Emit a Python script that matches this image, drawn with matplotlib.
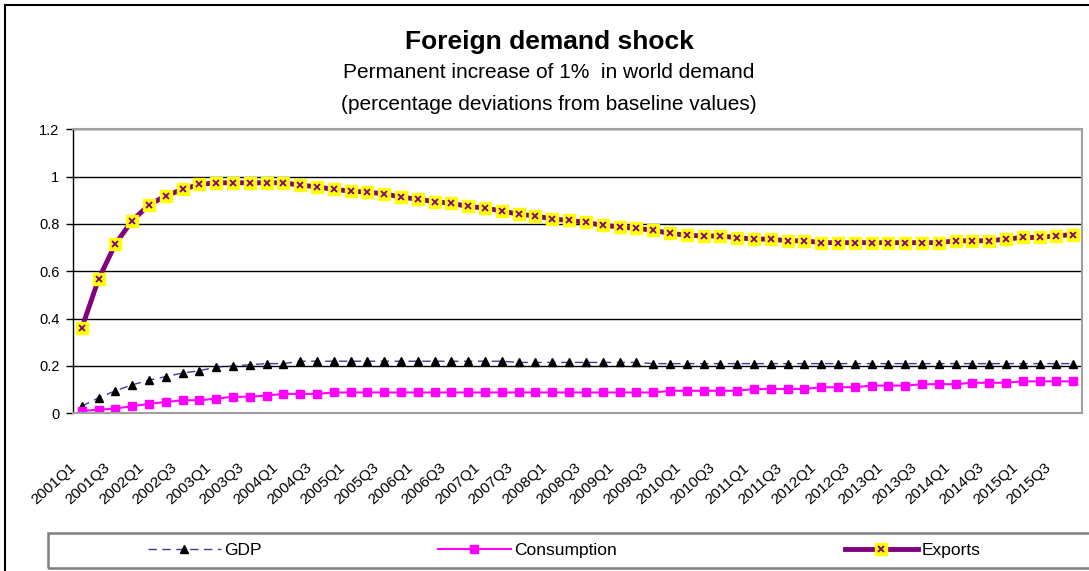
import matplotlib.pyplot as plt
from matplotlib.patches import Rectangle
from matplotlib.transforms import ScaledTranslation

plt.rcParams['font.family'] = ['Liberation Sans', 'DejaVu Sans']

# quarters 2001Q1 .. 2015Q4
quarters = [f'{y}Q{q}' for y in range(2001, 2016) for q in range(1, 5)]

gdp = [0.03, 0.065, 0.095, 0.12, 0.14, 0.155, 0.17, 0.18, 0.195, 0.20,
       0.205, 0.21, 0.21, 0.22, 0.22, 0.22, 0.22, 0.22, 0.22, 0.22,
       0.22, 0.22, 0.22, 0.22, 0.22, 0.22, 0.215, 0.215, 0.215, 0.215,
       0.215, 0.215, 0.215, 0.215, 0.21, 0.21, 0.21, 0.21, 0.21, 0.21,
       0.21, 0.21, 0.21, 0.21, 0.21, 0.21, 0.21, 0.21, 0.21, 0.21,
       0.21, 0.21, 0.21, 0.21, 0.21, 0.21, 0.21, 0.21, 0.21, 0.21]

consumption = [0.01, 0.015, 0.02, 0.03, 0.04, 0.048, 0.055, 0.055, 0.062, 0.07,
               0.07, 0.075, 0.082, 0.082, 0.082, 0.088, 0.088, 0.088, 0.088, 0.088,
               0.088, 0.088, 0.088, 0.088, 0.088, 0.088, 0.088, 0.088, 0.088, 0.088,
               0.088, 0.088, 0.088, 0.088, 0.088, 0.095, 0.095, 0.095, 0.095, 0.095,
               0.103, 0.103, 0.103, 0.103, 0.11, 0.11, 0.11, 0.117, 0.117, 0.117,
               0.123, 0.123, 0.123, 0.129, 0.129, 0.129, 0.135, 0.135, 0.135, 0.135]

exports = [0.359, 0.566, 0.715, 0.814, 0.880, 0.919, 0.946, 0.967, 0.974, 0.974,
           0.974, 0.974, 0.974, 0.964, 0.957, 0.946, 0.939, 0.934, 0.928, 0.913,
           0.905, 0.894, 0.887, 0.874, 0.867, 0.855, 0.841, 0.834, 0.821, 0.815,
           0.807, 0.794, 0.788, 0.781, 0.774, 0.760, 0.753, 0.749, 0.749, 0.742,
           0.736, 0.736, 0.729, 0.729, 0.721, 0.721, 0.721, 0.721, 0.721, 0.721,
           0.721, 0.721, 0.729, 0.729, 0.729, 0.736, 0.743, 0.743, 0.750, 0.755]

x = list(range(len(quarters)))

fig = plt.figure(figsize=(10.89, 5.71), dpi=100)
ax = fig.add_axes([73.3/1089, 1-413.3/571, 1008.4/1089, 284/571])

# outer chart border (cut off at right/bottom like the original)
fig.patches.append(Rectangle((5/1089, -0.05), 1.2, 1-5/571+0.05, transform=fig.transFigure,
                             fill=False, edgecolor='black', linewidth=1.5))

gl, = ax.plot(x, gdp, color='#3c3c9c', linewidth=1, dashes=(6, 4),
              marker='^', markersize=6, markerfacecolor='black', markeredgecolor='black')
cl, = ax.plot(x, consumption, color='#ff00ff', linewidth=1.5,
              marker='s', markersize=5.5, markerfacecolor='#ff00ff', markeredgecolor='#ff00ff')
el, = ax.plot(x, exports, color='#800080', linewidth=3.5,
              marker='s', markersize=8.5, markerfacecolor='#ffff00', markeredgecolor='#ffff00')
ex, = ax.plot(x, exports, linestyle='none', marker='x', markersize=5,
              markeredgecolor='#800080', markeredgewidth=1.3)

ax.set_xlim(-0.5, len(quarters) - 0.5)
ax.set_ylim(0, 1.2)
ax.set_yticks([0, 0.2, 0.4, 0.6, 0.8, 1.0, 1.2])
ax.set_yticklabels(['0', '0.2', '0.4', '0.6', '0.8', '1', '1.2'])
ax.grid(axis='y', color='black', linewidth=1)
ax.set_axisbelow(True)

for s in ['top', 'right', 'bottom']:
    ax.spines[s].set_color('#a0a0a0')
    ax.spines[s].set_linewidth(1.5)
ax.spines['left'].set_color('black')
ax.spines['left'].set_linewidth(1)

ax.tick_params(axis='y', direction='out', length=5, width=1, pad=5, labelsize=10.5)
ax.set_xticks(x[::2])
ax.set_xticklabels(quarters[::2], rotation=42, ha='right', va='top',
                   rotation_mode='anchor', fontsize=11)
ax.tick_params(axis='x', length=0, pad=34)
off = ScaledTranslation(-12/100, 0, fig.dpi_scale_trans)
for lab in ax.get_xticklabels():
    lab.set_transform(lab.get_transform() + off)

fig.text(549/1089, 1-42/571, 'Foreign demand shock', ha='center', va='center',
         fontsize=19, fontweight='bold')
fig.text(549/1089, 1-73/571, 'Permanent increase of 1%  in world demand', ha='center',
         va='center', fontsize=15)
fig.text(549/1089, 1-104/571, '(percentage deviations from baseline values)', ha='center',
         va='center', fontsize=15)

# legend box
fig.patches.append(Rectangle((48/1089, 1-568/571), 1.2, 35/571, transform=fig.transFigure,
                             fill=False, edgecolor='#808080', linewidth=1.8))
legend_items = [(gl, 'GDP', 148), (cl, 'Consumption', 438), ((el, ex), 'Exports', 845)]
for h, lab, px in legend_items:
    fig.legend([h], [lab], loc='center left', bbox_to_anchor=(px/1089, 1-550/571),
               frameon=False, fontsize=12.5, handlelength=4.2, handletextpad=0.2,
               borderpad=0, borderaxespad=0)

fig.savefig('out.png', dpi=100)
